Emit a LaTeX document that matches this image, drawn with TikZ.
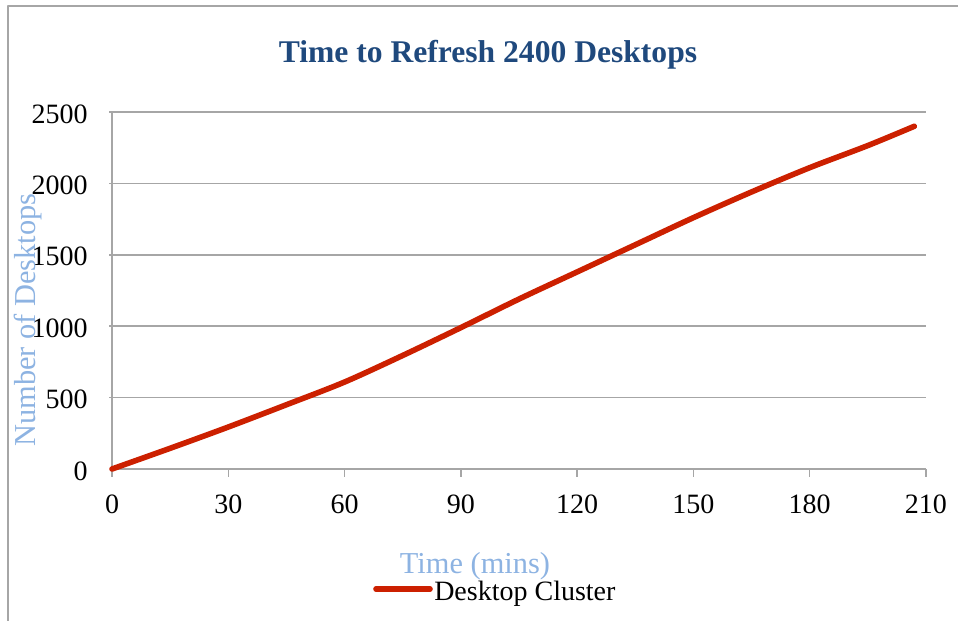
\documentclass[tikz,border=0pt]{standalone}
\usepackage{fontspec}
\setmainfont{Liberation Serif}
\definecolor{titleblue}{RGB}{31,73,125}
\definecolor{axisblue}{RGB}{141,179,226}
\definecolor{curvered}{RGB}{204,32,0}
\definecolor{gridgray}{RGB}{166,166,166}

\begin{document}
\begin{tikzpicture}[x=0.75pt, y=-0.75pt, line join=round,
  gridline/.style={draw=gridgray, line width=1.1pt},
  ticklabel/.style={inner sep=0pt, font=\fontsize{21}{24}\selectfont},
  axistitle/.style={inner sep=0pt, text=axisblue, font=\fontsize{22.8}{26}\selectfont},
  series/.style={draw=curvered, line width=4.2pt, line cap=round}]
  \useasboundingbox (0,0) rectangle (958,621);
  % chart frame, cut off at right and bottom
  \draw[gridline] (8,621) -- (8,6) -- (958,6);
  % title
  \node[anchor=base, inner sep=0pt, text=titleblue,
        font=\fontsize{23.7}{28}\selectfont\bfseries] (title) at (488,62)
        {Time to Refresh 2400 Desktops};
  % plot area: x in minutes, y in desktops
  \begin{scope}[shift={(112,469)}, x=2.907pt, y=0.1071pt]
    \foreach \d in {500,1000,...,2500} {
      \draw[gridline] ([xshift=-2pt]0,\d) -- (210,\d);
    }
    \foreach \d in {0,500,...,2500} {
      \node[ticklabel, anchor=east] (ylab\d) at ([xshift=-18pt,yshift=-1.5pt]0,\d) {\d};
    }
    % axes and ticks
    \draw[gridline] (0,2500) -- (0,0) -- (210,0);
    \foreach \t in {0,30,...,210} {
      \draw[gridline] (\t,0) -- ([yshift=-6pt]\t,0);
      \node[ticklabel, anchor=base] (xlab\t) at ([yshift=-33pt]\t,0) {\t};
    }
    % desktops refreshed over time
    \draw[series] plot[smooth] coordinates {(0,0) (15,145) (30,294) (45,450)
      (60,609) (75,795) (90,990) (105,1190) (120,1380) (135,1570) (150,1760)
      (165,1940) (180,2110) (195,2265) (207,2400)};
  \end{scope}
  % axis titles
  \node[axistitle, rotate=90] (ytitle) at (28,320) {Number of Desktops};
  \node[axistitle, anchor=base] (xtitle) at (475,573) {Time (mins)};
  % legend
  \coordinate (keyL) at (376,589);
  \coordinate (keyR) at (430,589);
  \draw[series] (keyL) -- (keyR);
  \node[ticklabel, anchor=base west] (legend) at (434,600) {Desktop Cluster};
\end{tikzpicture}
\end{document}
